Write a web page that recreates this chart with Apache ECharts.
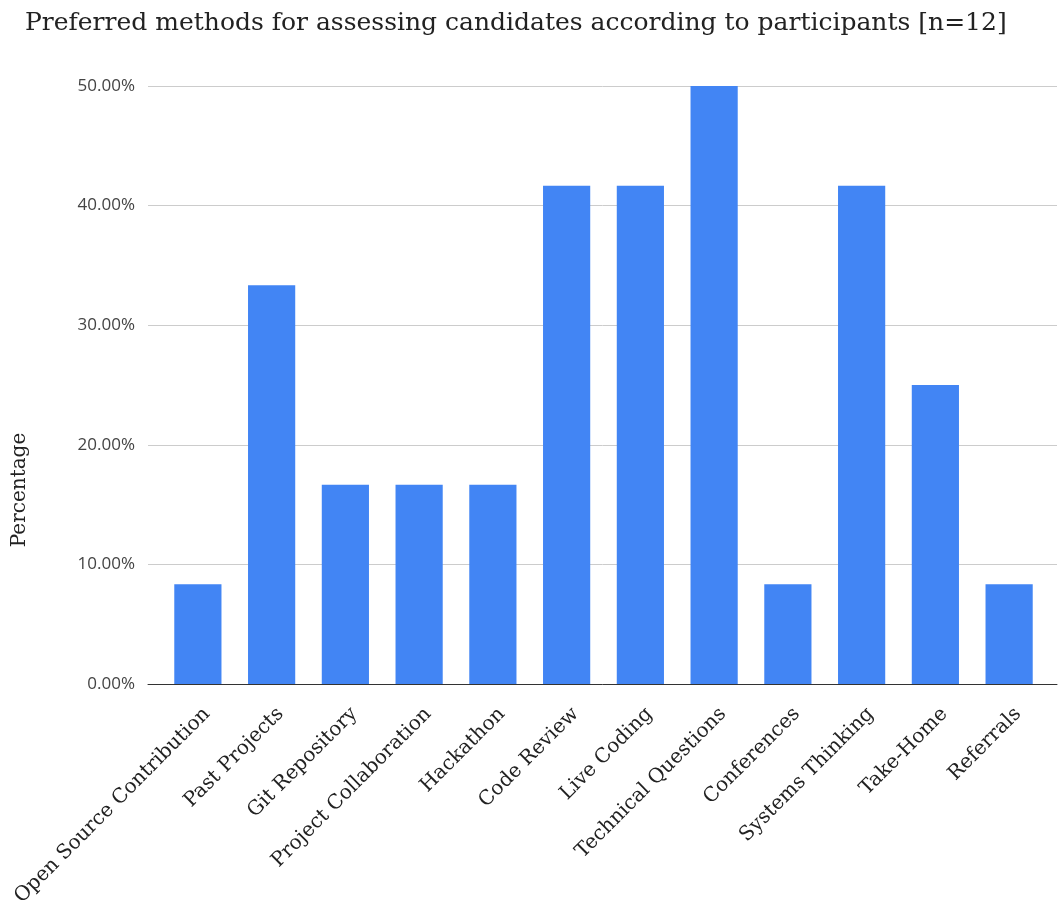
<!DOCTYPE html>
<html>
<head>
<meta charset="utf-8">
<script src="https://cdn.jsdelivr.net/npm/echarts@6/dist/echarts.min.js"></script>
<style>
  html, body { margin: 0; padding: 0; background: #fff; }
  #chart { width: 1061px; height: 909px; }
</style>
</head>
<body>
<div id="chart"></div>
<script>
// Assessment methods and share of participants (n = 12) preferring each
const categories = [
  'Open Source Contribution', 'Past Projects', 'Git Repository', 'Project Collaboration',
  'Hackathon', 'Code Review', 'Live Coding', 'Technical Questions',
  'Conferences', 'Systems Thinking', 'Take-Home', 'Referrals'
];
const percentages = [8.33, 33.33, 16.67, 16.67, 16.67, 41.67, 41.67, 50.0, 8.33, 41.67, 25.0, 8.33];
const yTicks = [0, 10, 20, 30, 40, 50];

const serif = 'DejaVu Serif';
const yMin = yTicks[0], yMax = yTicks[yTicks.length - 1];
const hiddenY = gi => ({
  type: 'value', gridIndex: gi, min: yMin, max: yMax, interval: 10, show: false
});

const chart = echarts.init(document.getElementById('chart'));
chart.setOption({
  animation: false,
  backgroundColor: '#ffffff',
  title: {
    text: 'Preferred methods for assessing candidates according to participants [n=12]',
    left: 20,
    top: 6,
    textStyle: { fontFamily: serif, fontWeight: 'normal', fontSize: 25, color: '#222' }
  },
  graphic: [{
    type: 'text',
    x: 20, y: 490,
    rotation: Math.PI / 2,
    style: {
      text: 'Percentage',
      fontFamily: serif, fontSize: 20, fill: '#222',
      align: 'center', verticalAlign: 'middle'
    }
  }],
  // 0: gridlines, value labels and baseline spanning the full width
  // 1: the bars, inset from the frame
  // 2: category labels, nudged to the right of each bar
  grid: [
    { left: 148, right: 4, top: 86, bottom: 225 },
    { left: 161, right: 15, top: 86, bottom: 225 },
    { left: 170, right: 6, top: 86, bottom: 225 }
  ],
  xAxis: [
    {
      type: 'category', gridIndex: 0, data: categories,
      axisLine: { lineStyle: { color: '#333', width: 1 } },
      axisTick: { show: false }, axisLabel: { show: false }, splitLine: { show: false }
    },
    {
      type: 'category', gridIndex: 1, data: categories,
      axisLine: { show: false }, axisTick: { show: false }, axisLabel: { show: false }
    },
    {
      type: 'category', gridIndex: 2, data: categories,
      axisLine: { show: false }, axisTick: { show: false },
      axisLabel: {
        interval: 0, rotate: 45, margin: 27,
        fontFamily: serif, fontSize: 20, color: '#222'
      }
    }
  ],
  yAxis: [
    {
      type: 'value', gridIndex: 0, min: yMin, max: yMax, interval: 10,
      axisLine: { show: false },
      axisTick: { show: false },
      splitLine: { lineStyle: { color: '#cccccc', width: 1 } },
      axisLabel: {
        margin: 13,
        fontFamily: 'Open Sans', fontSize: 17, color: '#444',
        formatter: v => v.toFixed(2) + '%'
      }
    },
    hiddenY(1),
    hiddenY(2)
  ],
  series: [{
    type: 'bar',
    xAxisIndex: 1, yAxisIndex: 1,
    data: percentages,
    barCategoryGap: '36%',
    itemStyle: { color: '#4285F4' }
  }]
});
</script>
</body>
</html>
